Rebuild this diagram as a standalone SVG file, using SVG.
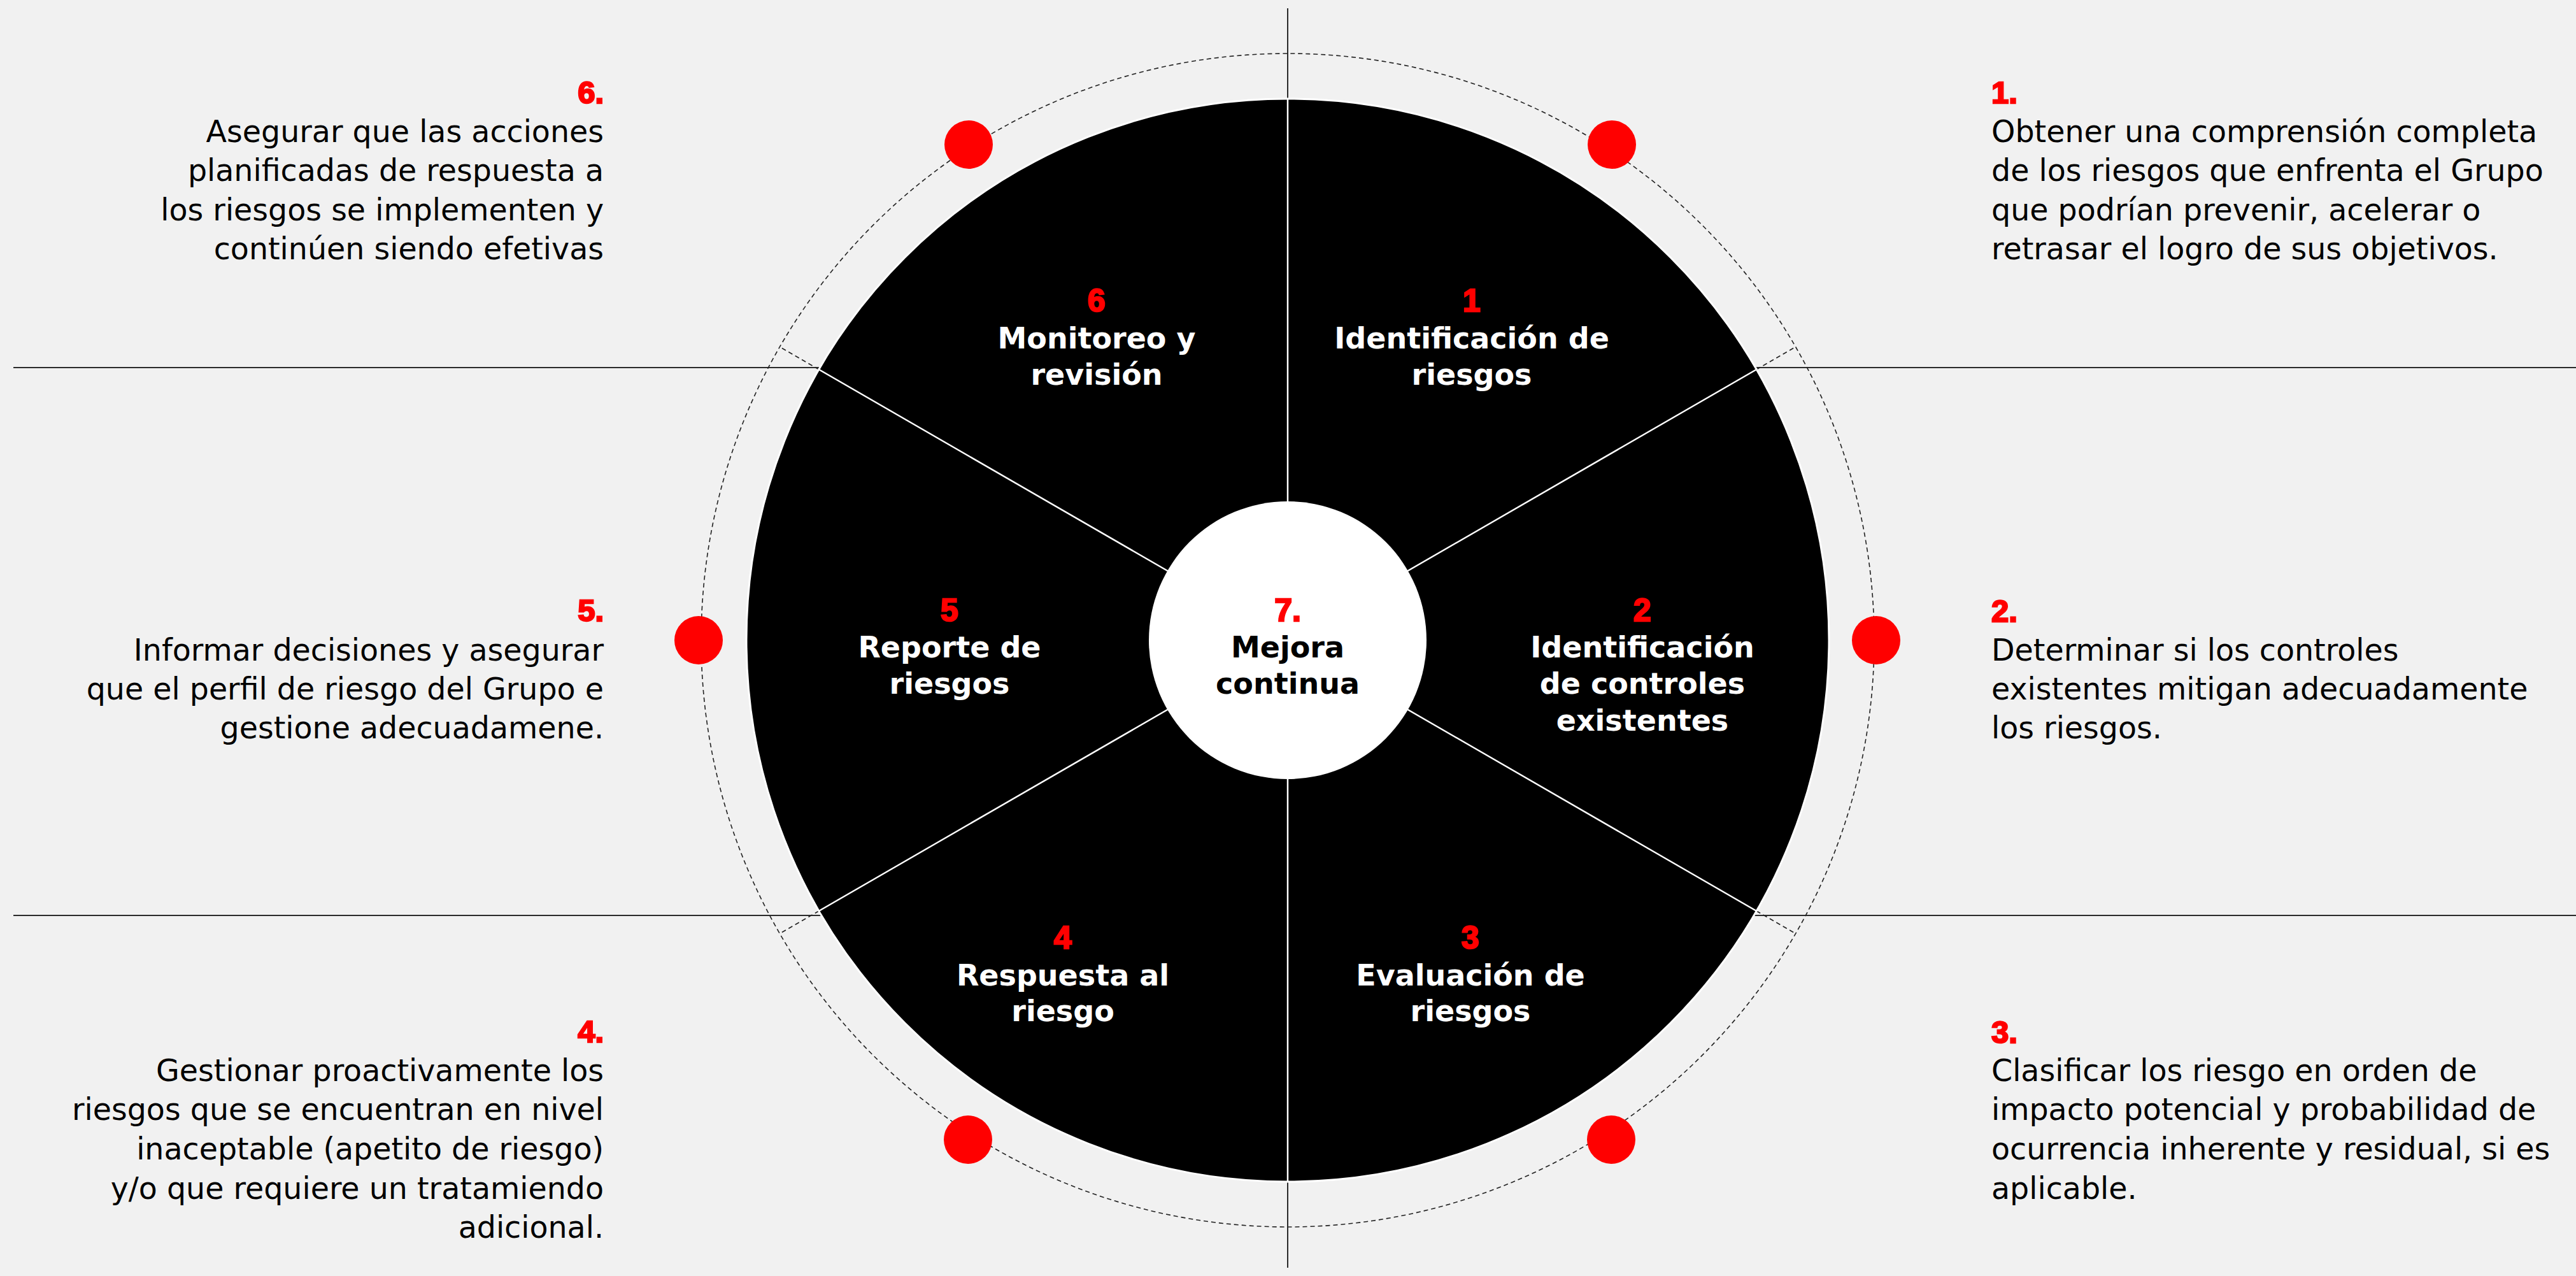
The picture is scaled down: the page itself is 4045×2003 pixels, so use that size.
<svg xmlns="http://www.w3.org/2000/svg" width="4045" height="2003" viewBox="0 0 4045 2003">
<style>
.body{font-family:"DejaVu Sans","Liberation Sans",sans-serif;font-size:47.5px;fill:#000}
.num{font-family:"Liberation Sans","DejaVu Sans",sans-serif;font-weight:bold;font-size:49px;fill:#ff0000;stroke:#ff0000;stroke-width:2.5px}
.lbl{font-family:"DejaVu Sans","Liberation Sans",sans-serif;font-weight:bold;font-size:46px;fill:#fff;text-anchor:middle}
.snum{font-family:"Liberation Sans","DejaVu Sans",sans-serif;font-weight:bold;font-size:50px;fill:#ff0000;stroke:#ff0000;stroke-width:2.5px;text-anchor:middle}
.rt{text-anchor:end}
.guide{stroke:#2a2a2a;stroke-width:2;fill:none}
.dash{stroke:#222;stroke-width:1.6;fill:none;stroke-dasharray:7 5}
.ray{stroke:#fff;stroke-width:2.5}
.dot{fill:#ff0000}
</style>
<rect x="0" y="0" width="4045" height="2003" fill="#f1f1f1"/>

<g id="connectors">
  <line class="guide" x1="2022" y1="13" x2="2022" y2="160"/>
  <line class="guide" x1="2022" y1="1850" x2="2022" y2="1990"/>
  <line class="guide" x1="21" y1="577" x2="1288" y2="577"/>
  <line class="guide" x1="2756" y1="577" x2="4045" y2="577"/>
  <line class="guide" x1="21" y1="1437" x2="1290" y2="1437"/>
  <line class="guide" x1="2754" y1="1437" x2="4045" y2="1437"/>
  <circle class="dash" cx="2022" cy="1005" r="921"/>
  <line class="dash" x1="1285.9" y1="580" x2="1224.4" y2="544.5"/>
  <line class="dash" x1="2758.1" y1="580" x2="2819.6" y2="544.5"/>
  <line class="dash" x1="1285.9" y1="1430" x2="1224.4" y2="1465.5"/>
  <line class="dash" x1="2758.1" y1="1430" x2="2819.6" y2="1465.5"/>
</g>

<g id="wheel">
  <circle cx="2022" cy="1005" r="850" fill="#000" stroke="#fff" stroke-width="3"/>
  <line class="ray" x1="2022" y1="1005" x2="2022" y2="155"/>
  <line class="ray" x1="2022" y1="1005" x2="2022" y2="1855"/>
  <line class="ray" x1="2022" y1="1005" x2="1285.9" y2="580"/>
  <line class="ray" x1="2022" y1="1005" x2="2758.1" y2="580"/>
  <line class="ray" x1="2022" y1="1005" x2="1285.9" y2="1430"/>
  <line class="ray" x1="2022" y1="1005" x2="2758.1" y2="1430"/>
</g>

<g id="dots">
  <circle class="dot" cx="2531" cy="227" r="38"/>
  <circle class="dot" cx="2946" cy="1005" r="38"/>
  <circle class="dot" cx="2530" cy="1789" r="38"/>
  <circle class="dot" cx="1520" cy="1789" r="38"/>
  <circle class="dot" cx="1097" cy="1005" r="38"/>
  <circle class="dot" cx="1521" cy="227" r="38"/>
</g>

<g id="node-1">
  <text class="snum" x="2311" y="489">1</text>
  <text class="lbl" x="2311" y="547">Identificación de</text>
  <text class="lbl" x="2311" y="604">riesgos</text>
</g>
<g id="node-2">
  <text class="snum" x="2579" y="975">2</text>
  <text class="lbl" x="2579" y="1032">Identificación</text>
  <text class="lbl" x="2579" y="1089">de controles</text>
  <text class="lbl" x="2579" y="1147">existentes</text>
</g>
<g id="node-3">
  <text class="snum" x="2309" y="1489">3</text>
  <text class="lbl" x="2309" y="1547">Evaluación de</text>
  <text class="lbl" x="2309" y="1603">riesgos</text>
</g>
<g id="node-4">
  <text class="snum" x="1669" y="1489">4</text>
  <text class="lbl" x="1669" y="1547">Respuesta al</text>
  <text class="lbl" x="1669" y="1603">riesgo</text>
</g>
<g id="node-5">
  <text class="snum" x="1491" y="975">5</text>
  <text class="lbl" x="1491" y="1032">Reporte de</text>
  <text class="lbl" x="1491" y="1089">riesgos</text>
</g>
<g id="node-6">
  <text class="snum" x="1722" y="489">6</text>
  <text class="lbl" x="1722" y="547">Monitoreo y</text>
  <text class="lbl" x="1722" y="604">revisión</text>
</g>
<g id="node-7">
  <circle cx="2022" cy="1005" r="218" fill="#fff"/>
  <text class="snum" x="2022" y="975">7.</text>
  <text class="lbl" x="2022" y="1032" style="fill:#000">Mejora</text>
  <text class="lbl" x="2022" y="1089" style="fill:#000">continua</text>
</g>

<g id="desc-1">
  <text class="num" x="3127" y="162">1.</text>
  <text class="body" x="3127" y="223">Obtener una comprensión completa</text>
  <text class="body" x="3127" y="284">de los riesgos que enfrenta el Grupo</text>
  <text class="body" x="3127" y="345.5">que podrían prevenir, acelerar o</text>
  <text class="body" x="3127" y="407">retrasar el logro de sus objetivos.</text>
</g>
<g id="desc-2">
  <text class="num" x="3127" y="975.5">2.</text>
  <text class="body" x="3127" y="1036.5">Determinar si los controles</text>
  <text class="body" x="3127" y="1097.5">existentes mitigan adecuadamente</text>
  <text class="body" x="3127" y="1159">los riesgos.</text>
</g>
<g id="desc-3">
  <text class="num" x="3127" y="1636.5">3.</text>
  <text class="body" x="3127" y="1697">Clasificar los riesgo en orden de</text>
  <text class="body" x="3127" y="1758">impacto potencial y probabilidad de</text>
  <text class="body" x="3127" y="1820">ocurrencia inherente y residual, si es</text>
  <text class="body" x="3127" y="1882">aplicable.</text>
</g>
<g id="desc-4">
  <text class="num rt" x="948" y="1636">4.</text>
  <text class="body rt" x="948" y="1697">Gestionar proactivamente los</text>
  <text class="body rt" x="948" y="1758">riesgos que se encuentran en nivel</text>
  <text class="body rt" x="948" y="1820">inaceptable (apetito de riesgo)</text>
  <text class="body rt" x="948" y="1882">y/o que requiere un tratamiendo</text>
  <text class="body rt" x="948" y="1943">adicional.</text>
</g>
<g id="desc-5">
  <text class="num rt" x="948" y="975">5.</text>
  <text class="body rt" x="948" y="1036.5">Informar decisiones y asegurar</text>
  <text class="body rt" x="948" y="1097.5">que el perfil de riesgo del Grupo e</text>
  <text class="body rt" x="948" y="1159">gestione adecuadamene.</text>
</g>
<g id="desc-6">
  <text class="num rt" x="948" y="162">6.</text>
  <text class="body rt" x="948" y="223">Asegurar que las acciones</text>
  <text class="body rt" x="948" y="284">planificadas de respuesta a</text>
  <text class="body rt" x="948" y="346">los riesgos se implementen y</text>
  <text class="body rt" x="948" y="407">continúen siendo efetivas</text>
</g>
</svg>
